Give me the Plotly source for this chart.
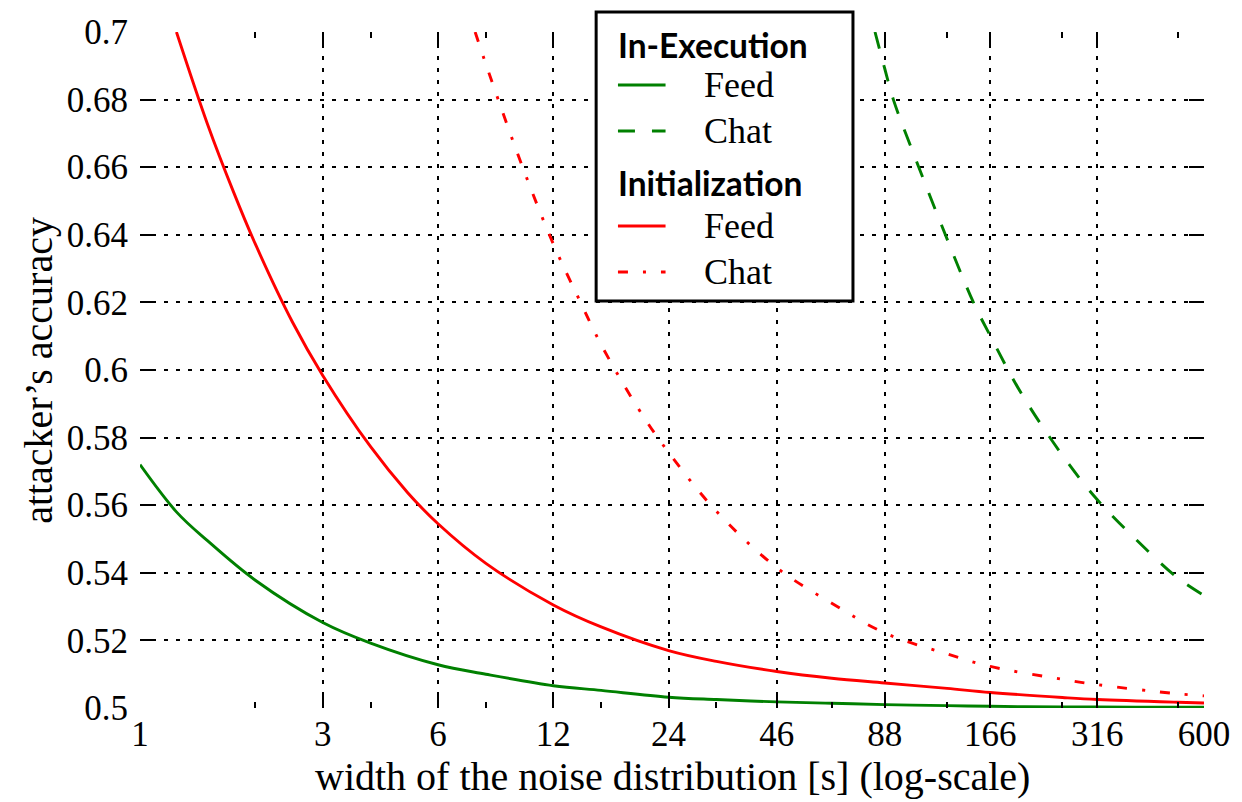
import plotly.graph_objects as go

# Attacker accuracy against the width of the injected noise (seconds, log scale)
exec_feed_x = [1, 1.25, 1.5, 2, 3, 4, 6, 8, 12, 16, 24, 32, 46, 64, 88,
               128, 166, 256, 316, 512, 600]
exec_feed_y = [0.572, 0.5578, 0.5495, 0.5378, 0.5253, 0.5192, 0.5128, 0.51,
               0.5066, 0.5052, 0.5032, 0.5025, 0.5018, 0.5014, 0.501, 0.5007,
               0.5005, 0.5003, 0.5003, 0.5002, 0.5002]

exec_chat_x = [83, 88, 92.7, 108, 128, 150, 166, 200, 256, 316, 400, 512, 600]
exec_chat_y = [0.70, 0.6892, 0.68, 0.66, 0.6388, 0.62, 0.6101, 0.5931, 0.5748,
               0.5616, 0.5497, 0.5385, 0.5333]

init_feed_x = [1.245, 1.5, 1.75, 2, 2.5, 3, 4, 5, 6, 8, 12, 16, 24, 32, 46,
               64, 88, 128, 166, 256, 316, 512, 600]
init_feed_y = [0.70, 0.6728, 0.653, 0.6373, 0.6142, 0.5984, 0.5773, 0.5637,
               0.5545, 0.5428, 0.5305, 0.524, 0.517, 0.5138, 0.5108, 0.5088,
               0.5074, 0.5058, 0.5046, 0.5031, 0.5025, 0.5017, 0.5015]

init_chat_x = [7.5, 8, 10, 12, 14, 16, 20, 24, 32, 46, 64, 88, 128, 166, 256,
               316, 512, 600]
init_chat_y = [0.70, 0.6905, 0.6597, 0.6373, 0.621, 0.6075, 0.5886, 0.5756,
               0.5582, 0.5415, 0.531, 0.5222, 0.516, 0.5123, 0.5085, 0.5069,
               0.5042, 0.5036]

x_ticks = [1, 3, 6, 12, 24, 46, 88, 166, 316, 600]
x_minor = [2, 4, 8, 16, 32, 64, 128, 256, 512]
y_ticks = [0.5, 0.52, 0.54, 0.56, 0.58, 0.6, 0.62, 0.64, 0.66, 0.68, 0.7]
y_labels = ["0.5", "0.52", "0.54", "0.56", "0.58", "0.6", "0.62", "0.64",
            "0.66", "0.68", "0.7"]

GREEN = "#008000"
RED = "#ff0000"
SERIF = "Liberation Serif"
SANS = "Lato"
DASHED = "17px,17px"
DASHDOT = "10px,15px,3px,15px"

W, H = 1242, 802
L, R, T, B = 140, 29, 32, 94
PW, PH = W - L - R, H - T - B


def px(x):
    return (x - L) / PW


def py(y):
    return (H - B - y) / PH


series = [
    (exec_feed_x, exec_feed_y, GREEN, "solid"),
    (exec_chat_x, exec_chat_y, GREEN, DASHED),
    (init_feed_x, init_feed_y, RED, "solid"),
    (init_chat_x, init_chat_y, RED, DASHDOT),
]

fig = go.Figure()
for xs, ys, col, dash in series:
    fig.add_trace(go.Scatter(
        x=xs, y=ys, mode="lines", showlegend=False,
        line=dict(color=col, width=2.9, dash=dash, shape="spline", smoothing=1.0),
    ))

grid = dict(gridcolor="black", gridwidth=1.7, griddash="3.5px,8.5px")

fig.update_xaxes(
    type="log", range=[0, 2.77815], tickvals=x_ticks, ticktext=[str(v) for v in x_ticks],
    showline=False, zeroline=False, mirror="ticks",
    ticks="inside", ticklen=15, tickwidth=2, tickcolor="black",
    ticklabelstandoff=2,
    tickfont=dict(family=SERIF, size=35, color="black"),
    showgrid=True, **grid,
    minor=dict(tickmode="array", tickvals=x_minor, ticks="inside", ticklen=6,
               tickwidth=1.5, tickcolor="black", showgrid=False),
)
fig.update_yaxes(
    range=[0.5, 0.7], tickvals=y_ticks, ticktext=y_labels,
    showline=False, zeroline=False, mirror="ticks",
    ticks="inside", ticklen=15, tickwidth=2, tickcolor="black",
    ticklabelstandoff=11,
    tickfont=dict(family=SERIF, size=35, color="black"),
    showgrid=False,
    minor=dict(tickmode="array", tickvals=y_ticks[:-1], ticks="", showgrid=True, **grid),
)

# legend panel
shapes = [dict(type="rect", xref="paper", yref="paper",
               x0=px(600), x1=px(859), y0=py(301), y1=py(12),
               line=dict(color="black", width=3), fillcolor="white", layer="above")]
annotations = []
entries = [
    ("In-Execution", 45, None, None),
    ("Feed", 85, GREEN, "solid"),
    ("Chat", 131, GREEN, DASHED),
    ("Initialization", 183, None, None),
    ("Feed", 226, RED, "solid"),
    ("Chat", 272, RED, DASHDOT),
]
for text, yy, col, dash in entries:
    if col is None:
        annotations.append(dict(
            xref="paper", yref="paper", x=px(620), y=py(yy), xanchor="left",
            yanchor="middle", showarrow=False, text="<b>%s</b>" % text,
            font=dict(family=SANS, size=33.5, color="black")))
    else:
        shapes.append(dict(type="line", xref="paper", yref="paper",
                           x0=px(622), x1=px(670), y0=py(yy), y1=py(yy),
                           line=dict(color=col, width=3, dash=dash), layer="above"))
        annotations.append(dict(
            xref="paper", yref="paper", x=px(707), y=py(yy), xanchor="left",
            yanchor="middle", showarrow=False, text=text,
            font=dict(family=SERIF, size=36, color="black")))

# axis titles
annotations.append(dict(
    xref="paper", yref="paper", x=0.5, y=py(777), xanchor="center",
    yanchor="middle", showarrow=False,
    text="width of the noise distribution [s] (log-scale)",
    font=dict(family=SERIF, size=40, color="black")))
annotations.append(dict(
    xref="paper", yref="paper", x=px(37), y=0.5, xanchor="center",
    yanchor="middle", showarrow=False, textangle=-90,
    text="attacker\u2019s accuracy",
    font=dict(family=SERIF, size=40, color="black")))

fig.update_layout(
    width=W, height=H, margin=dict(l=L, r=R, t=T, b=B),
    paper_bgcolor="white", plot_bgcolor="white",
    shapes=shapes, annotations=annotations,
)

fig.write_html("out.html")
